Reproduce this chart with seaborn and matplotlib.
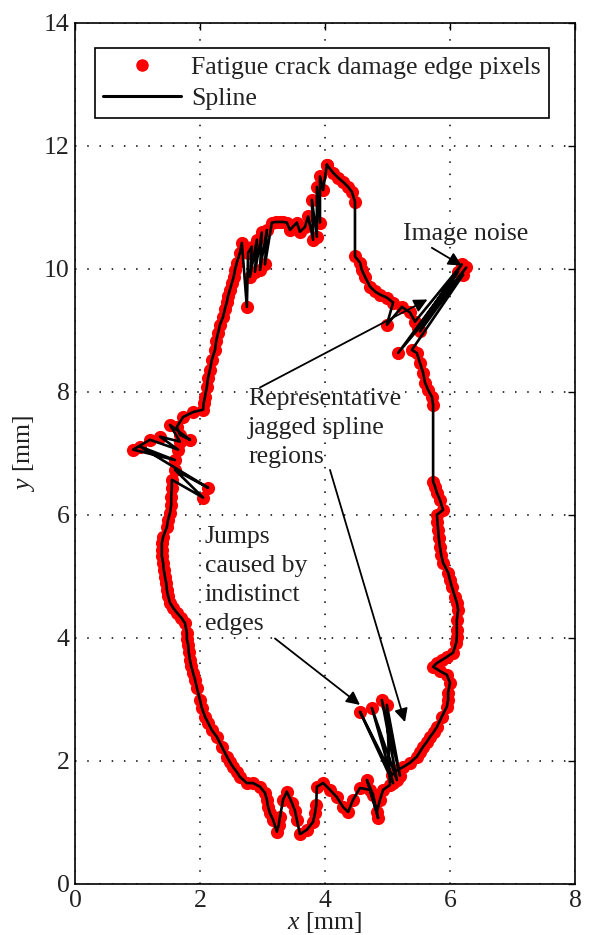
import matplotlib
matplotlib.use("Agg")
import matplotlib.pyplot as plt
import seaborn as sns
import pandas as pd
from matplotlib.lines import Line2D

# Edge pixel coordinates of the fatigue crack damage boundary [mm], in the
# order the fitted spline visits them (clockwise from the top peak).
x_edge = (
    [4.03, 4.13, 4.21, 4.29, 4.37, 4.43, 4.48, 4.48]
    + [4.56, 4.59, 4.64, 4.72, 4.80, 4.88, 4.99, 5.09, 4.99, 5.23, 5.36, 5.44]
    + [6.19, 5.49, 6.26, 5.52, 6.13, 5.17, 6.21, 5.39, 5.47]
    + [5.52, 5.57, 5.60, 5.65, 5.71, 5.73, 5.73, 5.76, 5.79, 5.84, 5.89, 5.79,
       5.80, 5.81, 5.82, 5.84, 5.86]
    + [5.89, 5.97, 6.00, 6.03, 6.08, 6.11, 6.13, 6.11, 6.11, 6.11, 6.10, 6.05,
       5.95, 5.87, 5.79, 5.73, 5.84]
    + [5.95, 6.00, 5.97, 5.97, 5.95, 5.87, 5.79, 5.74, 5.68, 5.63, 5.57, 5.52,
       5.47, 5.36, 5.25, 5.15, 5.07]
    + [4.56, 5.09, 4.75, 5.15, 4.91, 5.20, 4.99, 5.04]
    + [4.93, 4.88, 4.83, 4.67, 4.77, 4.85, 4.72, 4.56, 4.45, 4.37, 4.29, 4.19,
       4.08, 3.97, 3.87, 3.86, 3.84, 3.81]
    + [3.71, 3.60, 3.55, 3.52, 3.47, 3.39, 3.33, 3.28, 3.26, 3.23, 3.17, 3.12,
       3.09, 3.07, 3.04, 2.96, 2.85, 2.75]
    + [2.64, 2.59, 2.53, 2.48, 2.43, 2.35, 2.27, 2.19, 2.13, 2.08, 2.03, 2.00,
       1.95, 1.92, 1.89, 1.86, 1.84, 1.82]
    + [1.81, 1.79, 1.79, 1.76, 1.70, 1.63, 1.57, 1.52, 1.49, 1.47, 1.46, 1.44,
       1.42, 1.41, 1.39, 1.39, 1.39, 1.41]
    + [1.47, 1.49, 1.52, 1.54, 1.54, 1.55, 1.55]
    + [2.05, 1.60, 2.13, 1.04, 1.60, 0.93, 1.20, 1.65, 1.36, 1.68, 1.52, 1.84,
       1.68, 1.63, 1.73, 1.89, 2.05]
    + [2.06, 2.08, 2.11, 2.13, 2.16, 2.19, 2.24, 2.26, 2.29, 2.32, 2.37, 2.40,
       2.43, 2.45, 2.48, 2.51, 2.54, 2.56, 2.59, 2.64, 2.67]
    + [2.75, 2.77, 2.83, 2.80, 2.91, 2.88, 2.99, 2.96, 3.07, 3.04, 3.15, 3.22,
       3.28, 3.33, 3.39, 3.44]
    + [3.55, 3.60, 3.68, 3.73, 3.81, 3.79, 3.87, 3.87, 3.92, 3.92, 3.97, 4.03]
)
y_edge = (
    [11.69, 11.56, 11.48, 11.41, 11.33, 11.25, 11.09, 10.20]
    + [10.10, 9.98, 9.87, 9.71, 9.63, 9.58, 9.53, 9.45, 9.09, 9.38, 9.29, 9.14]
    + [10.07, 9.04, 10.02, 8.98, 9.95, 8.63, 9.90, 8.68, 8.63]
    + [8.47, 8.31, 8.15, 8.03, 7.92, 7.79, 6.54, 6.46, 6.36, 6.24, 6.08, 6.00,
       5.89, 5.76, 5.63, 5.48, 5.35]
    + [5.22, 5.06, 4.94, 4.83, 4.67, 4.57, 4.46, 4.29, 4.13, 4.02, 3.92, 3.76,
       3.69, 3.64, 3.59, 3.53, 3.46]
    + [3.40, 3.27, 3.11, 2.99, 2.88, 2.72, 2.55, 2.47, 2.39, 2.31, 2.23, 2.15,
       2.07, 1.97, 1.90, 1.85, 1.77]
    + [2.80, 1.64, 2.86, 1.69, 2.99, 1.76, 2.91, 1.61]
    + [1.53, 1.37, 1.17, 1.69, 1.45, 1.07, 1.53, 1.56, 1.37, 1.17, 1.25, 1.41,
       1.53, 1.64, 1.58, 1.28, 1.15, 1.01]
    + [0.88, 0.81, 1.04, 1.19, 1.32, 1.50, 1.37, 1.09, 0.96, 0.85, 1.04, 1.15,
       1.25, 1.37, 1.48, 1.58, 1.64, 1.64]
    + [1.74, 1.82, 1.90, 1.98, 2.07, 2.23, 2.39, 2.50, 2.62, 2.72, 2.86, 2.99,
       3.19, 3.32, 3.43, 3.54, 3.64, 3.77]
    + [3.89, 3.98, 4.08, 4.24, 4.33, 4.41, 4.49, 4.57, 4.68, 4.78, 4.89, 4.99,
       5.11, 5.22, 5.33, 5.43, 5.54, 5.64]
    + [5.80, 5.92, 6.03, 6.16, 6.29, 6.44, 6.57]
    + [6.28, 6.73, 6.44, 7.11, 6.89, 7.06, 7.22, 7.06, 7.27, 7.19, 7.46, 7.22,
       7.30, 7.43, 7.59, 7.67, 7.71]
    + [7.82, 7.92, 8.08, 8.23, 8.36, 8.52, 8.68, 8.83, 8.96, 9.09, 9.22, 9.35,
       9.46, 9.56, 9.66, 9.77, 9.87, 9.98, 10.10, 10.26, 10.42]
    + [9.38, 10.26, 10.36, 9.87, 10.47, 9.95, 10.59, 9.98, 10.63, 10.07, 10.75,
       10.76, 10.76, 10.76, 10.75, 10.63]
    + [10.75, 10.60, 10.68, 10.85, 10.47, 11.12, 10.52, 11.33, 10.75, 11.50,
       11.28, 11.69]
)

x_ticks = [0, 2, 4, 6, 8]
y_ticks = [0, 2, 4, 6, 8, 10, 12, 14]

legend_labels = ["Fatigue crack damage edge pixels", "Spline"]

# Callouts: (text, top-left text position, [(arrow tail, arrow head), ...])
callouts = [
    ("Image noise", (5.25, 10.75), [((5.71, 10.34), (6.19, 10.05))]),
    ("Representative\njagged spline\nregions", (2.77, 8.06),
     [((2.96, 8.07), (5.64, 9.50)), ((4.08, 6.73), (5.28, 2.63))]),
    ("Jumps\ncaused by\nindistinct\nedges", (2.08, 5.82),
     [((3.20, 3.99), (4.56, 2.91))]),
]

df = pd.DataFrame({"x": x_edge, "y": y_edge})

sns.set_style("white")
plt.rcParams["font.family"] = ["Liberation Serif", "DejaVu Serif"]
plt.rcParams["mathtext.fontset"] = "custom"
plt.rcParams["mathtext.rm"] = "Liberation Serif"
plt.rcParams["mathtext.it"] = "Liberation Serif:italic"

FS = 18.5
TXT = "#222222"
fig = plt.figure(figsize=(5.89, 9.35), dpi=100)
ax = fig.add_axes([0.1273, 0.0546, 0.8489, 0.9212])

# red edge pixels, spline on top
sns.scatterplot(data=df, x="x", y="y", ax=ax, color="#ff0000", s=90,
                linewidth=0, zorder=3, legend=False)
sns.lineplot(data=df, x="x", y="y", ax=ax, sort=False, estimator=None,
             color="black", linewidth=1.9, zorder=4, legend=False)

ax.set_xlim(x_ticks[0], x_ticks[-1])
ax.set_ylim(y_ticks[0], y_ticks[-1])
ax.set_xticks(x_ticks)
ax.set_yticks(y_ticks)
ax.set_xticklabels([str(t) for t in x_ticks], fontsize=FS, color=TXT)
ax.set_yticklabels([str(t) for t in y_ticks], fontsize=FS, color=TXT)
ax.tick_params(direction="in", length=5, width=1, top=True, right=True,
               color="black", pad=4)
ax.grid(True, color="black", linestyle=(0, (1, 7)), linewidth=1.1)
for sp in ax.spines.values():
    sp.set_visible(True)
    sp.set_color("black")
    sp.set_linewidth(1.2)

ax.set_xlabel("$x$ [mm]", fontsize=FS, color=TXT, labelpad=-1)
ax.set_ylabel("$y$ [mm]", fontsize=FS, color=TXT, labelpad=5)

for text, pos, arrows in callouts:
    ax.text(pos[0], pos[1], text, fontsize=FS, color=TXT,
            ha="left", va="top", linespacing=1.42, zorder=6)
    for tail, head in arrows:
        ax.annotate("", xy=head, xytext=tail,
                    arrowprops=dict(arrowstyle="-|>", color="black", lw=1.3,
                                    mutation_scale=20, shrinkA=0, shrinkB=0),
                    zorder=6)

handles = [
    Line2D([], [], linestyle="none", marker="o", markersize=8,
           markerfacecolor="#ff0000", markeredgecolor="#ff0000"),
    Line2D([], [], color="black", linewidth=2.2),
]
leg = ax.legend(handles, legend_labels, loc="upper left",
                bbox_to_anchor=(0.04, 0.971), borderaxespad=0,
                fontsize=FS, handlelength=3.0, handletextpad=0.4,
                labelspacing=0.3, borderpad=0.33, fancybox=False,
                framealpha=1, edgecolor="black")
leg.get_frame().set_linewidth(1.2)
for t in leg.get_texts():
    t.set_color(TXT)

fig.savefig("out.png", dpi=100)
